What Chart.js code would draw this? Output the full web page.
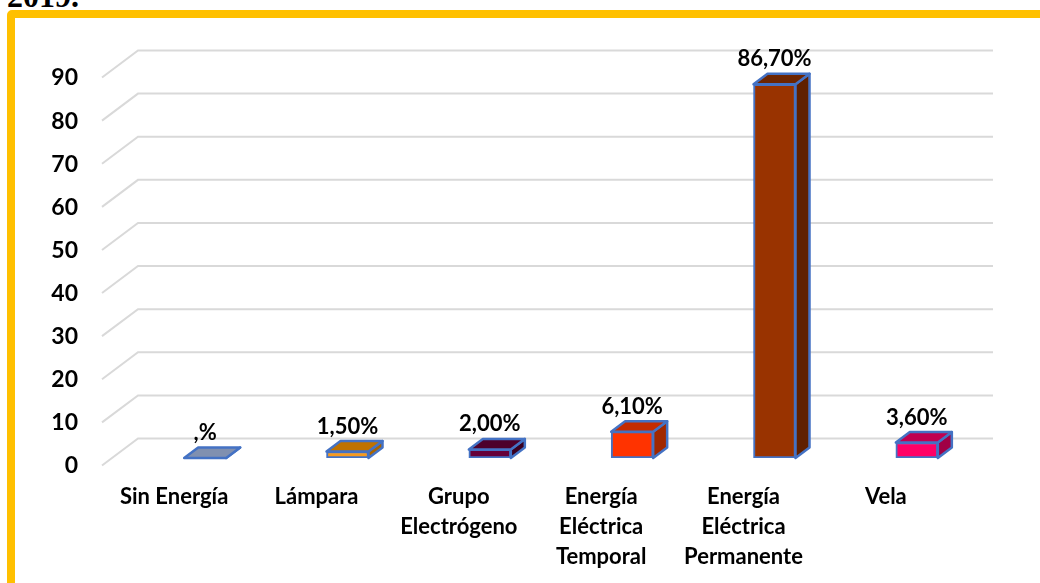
<!DOCTYPE html>
<html>
<head>
<meta charset="utf-8">
<style>
  html, body { margin: 0; padding: 0; background: #fff; }
  #pagina { position: relative; width: 1040px; height: 583px; overflow: hidden; }
  #titulo { position: absolute; left: 7px; top: -22px; font: bold 32px "Liberation Serif"; color: #000; }
  #marco { position: absolute; left: 7px; top: 10px; width: 1100px; height: 700px; box-sizing: border-box;
           border: 8px solid #FFC000; border-radius: 5px; }
  canvas { position: absolute; left: 0; top: 0; }
</style>
<script src="https://cdn.jsdelivr.net/npm/chart.js@4"></script>
</head>
<body>
<div id="pagina">
  <div id="titulo">2019.</div>
  <div id="marco"></div>
  <canvas id="grafico" width="1040" height="583"></canvas>
</div>
<script>
var categorias = ["Sin Energía", "Lámpara", ["Grupo", "Electrógeno"], ["Energía", "Eléctrica", "Temporal"], ["Energía", "Eléctrica", "Permanente"], "Vela"];
var valores = [0, 1.5, 2, 6.1, 86.7, 3.6];
var etiquetas = [",%", "1,50%", "2,00%", "6,10%", "86,70%", "3,60%"];
var coresFrente = ["#8090B0", "#F79A1E", "#660039", "#FF3300", "#993300", "#FF0066"];
var coresTopo = ["#8090B0", "#BF7200", "#4D002B", "#C42B00", "#6E2500", "#C00050"];
var coresLado = ["#8090B0", "#A86400", "#3A0020", "#A02800", "#602000", "#A00045"];

// deslocamento da parede do fundo e da frente em relacao ao plano das barras
var fundoX = 4, fundoY = -19.5, frenteX = -32, frenteY = 7.5;
var profX = 14, profY = -10.5;

var grade3d = {
  id: "grade3d",
  beforeDatasetsDraw: function (chart) {
    var ctx = chart.ctx;
    var y = chart.scales.y;
    ctx.save();
    ctx.strokeStyle = "#D9D9D9";
    ctx.lineWidth = 2;
    y.ticks.forEach(function (t) {
      var py = y.getPixelForValue(t.value);
      ctx.beginPath();
      ctx.moveTo(chart.chartArea.left + frenteX, py + frenteY);
      ctx.lineTo(chart.chartArea.left + fundoX, py + fundoY);
      ctx.lineTo(chart.chartArea.right + fundoX + 1, py + fundoY);
      ctx.stroke();
    });
    ctx.restore();
  }
};

var faces3d = {
  id: "faces3d",
  afterDatasetsDraw: function (chart) {
    var ctx = chart.ctx;
    var barras = chart.getDatasetMeta(0).data;
    ctx.save();
    ctx.strokeStyle = "#4472C4";
    ctx.lineWidth = 2.5;
    ctx.lineJoin = "round";
    barras.forEach(function (b, i) {
      var p = b.getProps(["x", "y", "base", "width"], true);
      var e = p.x - p.width / 2, d = p.x + p.width / 2;
      // lado
      ctx.fillStyle = coresLado[i];
      ctx.beginPath();
      ctx.moveTo(d, p.y);
      ctx.lineTo(d + profX, p.y + profY);
      ctx.lineTo(d + profX, p.base + profY);
      ctx.lineTo(d, p.base);
      ctx.closePath();
      ctx.fill();
      ctx.stroke();
      // topo
      ctx.fillStyle = coresTopo[i];
      ctx.beginPath();
      ctx.moveTo(e, p.y);
      ctx.lineTo(e + profX, p.y + profY);
      ctx.lineTo(d + profX, p.y + profY);
      ctx.lineTo(d, p.y);
      ctx.closePath();
      ctx.fill();
      ctx.stroke();
      // rotulo
      ctx.fillStyle = "#000";
      ctx.font = "bold 22px Lato";
      ctx.textAlign = "center";
      ctx.textBaseline = "middle";
      ctx.fillText(etiquetas[i], p.x, p.y - 25);
    });
    ctx.restore();
  }
};

var ctx1 = document.getElementById("grafico").getContext("2d");

var chart1 = new Chart(ctx1, {
  type: "bar",
  data: {
    labels: categorias,
    datasets: [
      {
        data: valores,
        backgroundColor: coresFrente,
        borderColor: "#4472C4",
        borderWidth: 2,
        borderSkipped: false,
        barThickness: 42,
      },
    ],
  },
  options: {
    responsive: false,
    animation: false,
    layout: {
      padding: { top: 70, right: 52, left: 0, bottom: 0 },
    },
    plugins: {
      legend: { display: false },
      tooltip: { enabled: false },
    },
    scales: {
      y: {
        min: 0,
        max: 90,
        afterFit: function (s) { s.width = 134; },
        grid: { display: false, drawTicks: false },
        border: { display: false },
        ticks: {
          stepSize: 10,
          padding: 56,
          labelOffset: 8,
          color: "#000",
          font: { size: 23, weight: "bold", family: "Lato" },
        },
      },
      x: {
        afterFit: function (s) { s.height = 125; },
        grid: { display: false, drawTicks: false },
        border: { display: false },
        ticks: {
          maxRotation: 0,
          autoSkip: false,
          padding: 24,
          labelOffset: -31,
          color: "#000",
          font: { size: 22, weight: "bold", family: "Lato", lineHeight: 1.36 },
        },
      },
    },
  },
  plugins: [grade3d, faces3d],
});
</script>
</body>
</html>
